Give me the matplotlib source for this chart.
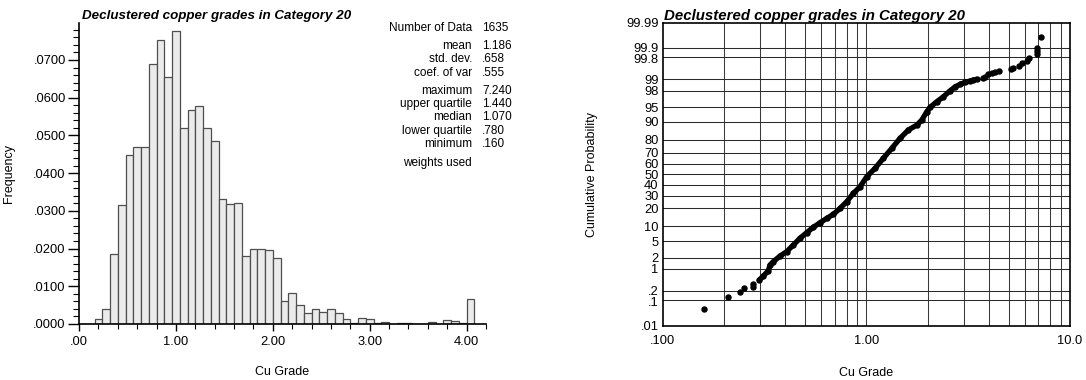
import numpy as np
import matplotlib
matplotlib.use("Agg")
import matplotlib.pyplot as plt
import matplotlib.transforms as mtransforms
from matplotlib.ticker import MultipleLocator, FuncFormatter, FixedLocator, NullLocator
from statistics import NormalDist

plt.rcParams["font.family"] = ["Liberation Sans", "DejaVu Sans"]

title = "Declustered copper grades in Category 20"

# histogram: bins of 0.08 starting at 0.0
bin_start = 0.0
bin_width = 0.08
freq = [
    0.0, 0.0, 0.0013, 0.0041, 0.0185, 0.0315, 0.0447, 0.0469, 0.0470, 0.0688,
    0.0753, 0.0654, 0.0776, 0.0520, 0.0568, 0.0578, 0.0519, 0.0485, 0.0332, 0.0319,
    0.0321, 0.0181, 0.0198, 0.0198, 0.0197, 0.0175, 0.0061, 0.0083, 0.0050, 0.0029,
    0.0039, 0.0033, 0.0039, 0.0030, 0.0012, 0.0002, 0.0015, 0.0012, 0.0003, 0.0004,
    0.0, 0.0002, 0.0002, 0.0001, 0.0, 0.0005, 0.0, 0.0010, 0.0009, 0.0002,
    0.0065,
]

stat_labels = ["Number of Data", "mean", "std. dev.", "coef. of var", "maximum",
               "upper quartile", "median", "lower quartile", "minimum", "weights used"]
stat_values = ["1635", "1.186", ".658", ".555", "7.240", "1.440", "1.070", ".780", ".160", ""]

# probability plot (grade, cumulative %)
low_grade = [0.160, 0.210, 0.240, 0.251, 0.279, 0.279]
low_pct = [0.048, 0.132, 0.196, 0.255, 0.288, 0.345]

band_grade = [0.298, 0.312, 0.330, 0.3365, 0.349, 0.377, 0.406, 0.438, 0.472, 0.509,
              0.549, 0.592, 0.639, 0.689, 0.743, 0.801, 0.863, 0.931, 1.005, 1.104,
              1.212, 1.334, 1.464, 1.607, 1.768, 1.871, 1.981, 2.056, 2.218, 2.39,
              2.58, 2.73, 2.89, 3.05, 3.23, 3.35, 3.48]
band_pct = [0.47, 0.62, 0.89, 1.29, 1.59, 2.23, 2.86, 4.11, 5.78, 7.55,
            9.61, 11.7, 13.9, 16.3, 20.1, 25.0, 31.9, 37.9, 47.6, 55.8,
            65.2, 73.8, 81.1, 86.1, 88.6, 90.8, 93.75, 94.97, 96.25, 97.14,
            97.98, 98.41, 98.63, 98.80, 98.89, 98.96, 99.007]

high_grade = [3.73, 3.83, 3.97, 4.13, 4.29, 4.50, 5.12, 5.27, 5.64, 5.80,
              6.14, 6.30, 6.92, 6.92, 6.92, 7.24]
high_pct = [99.07, 99.165, 99.29, 99.337, 99.395, 99.446, 99.509, 99.553, 99.613, 99.675,
            99.733, 99.778, 99.837, 99.875, 99.90, 99.962]

prob_ticks = [0.01, 0.1, 0.2, 1, 2, 5, 10, 20, 30, 40, 50, 60, 70, 80, 90, 95, 98, 99,
              99.8, 99.9, 99.99]
prob_labels = [".01", ".1", ".2", "1", "2", "5", "10", "20", "30", "40", "50", "60", "70",
               "80", "90", "95", "98", "99", "99.8", "99.9", "99.99"]

W, H = 1086, 380
fig = plt.figure(figsize=(W / 100, H / 100), dpi=100)


def box(x0, y0, x1, y1):
    return [x0 / W, 1 - y1 / H, (x1 - x0) / W, (y1 - y0) / H]


# ---- histogram ----
ax = fig.add_axes(box(79, 23, 486, 324))
lefts = bin_start + bin_width * np.arange(len(freq))
ax.bar(lefts, freq, width=bin_width, align="edge", color="#ebebeb",
       edgecolor="#4f4f4f", linewidth=0.9)
ax.set_xlim(0, 4.2)
ax.set_ylim(0, 0.0798)
for s in ["top", "right"]:
    ax.spines[s].set_visible(False)
for s in ["left", "bottom"]:
    ax.spines[s].set_linewidth(1.2)
ax.yaxis.set_major_locator(MultipleLocator(0.01))
ax.yaxis.set_minor_locator(MultipleLocator(0.002))
ax.xaxis.set_major_locator(MultipleLocator(1.0))
ax.xaxis.set_minor_locator(MultipleLocator(0.2))


def dotfmt(v, digits):
    s = f"{v:.{digits}f}"
    return s[1:] if s.startswith("0") else s


ax.yaxis.set_major_formatter(FuncFormatter(lambda v, _: dotfmt(v, 4)))
ax.xaxis.set_major_formatter(FuncFormatter(lambda v, _: dotfmt(v, 2)))
ax.tick_params(axis="y", which="major", length=8, width=1, pad=1.5, labelsize=9.3)
ax.tick_params(axis="y", which="minor", length=4, width=0.8)
ax.tick_params(axis="x", which="major", length=5, width=1, pad=3.5, labelsize=9.3)
ax.tick_params(axis="x", which="minor", length=3.5, width=0.8)
ax.set_xlabel("Cu Grade", fontsize=9)
ax.set_ylabel("Frequency", fontsize=9)
ax.xaxis.set_label_coords(0.5, -0.141)
ax.yaxis.set_label_coords(-0.157, 0.5)
fig.text(82 / W, 1 - 19.3 / H, title, fontsize=9.6, fontweight="bold",
         fontstyle="italic", va="baseline", ha="left")

# summary statistics block
line_y = [28.3, 46, 59.3, 72.7, 90.7, 104.3, 117.3, 130.7, 144, 162.7]
for lab, val, yy in zip(stat_labels, stat_values, line_y):
    fig.text(472 / W, 1 - yy / H, lab, fontsize=8.5, ha="right", va="center")
    fig.text(482 / W, 1 - yy / H, val, fontsize=8.5, ha="left", va="center")

# ---- probability plot ----
nd = NormalDist()


def fwd(p):
    p = np.clip(np.asarray(p, dtype=float), 1e-6, 100 - 1e-6)
    return np.vectorize(nd.inv_cdf, otypes=[float])(p / 100.0)


def inv(z):
    return np.vectorize(nd.cdf, otypes=[float])(np.asarray(z, dtype=float)) * 100.0


ax2 = fig.add_axes(box(662.7, 22.7, 1070, 325.7))
ax2.set_xscale("log")
ax2.set_yscale("function", functions=(fwd, inv))
ax2.set_xlim(0.1, 10)
ax2.set_ylim(0.01, 99.99)

grid_x = [k * d for d in (0.1, 1.0) for k in range(2, 10)] + [1.0]
for gx in grid_x:
    ax2.axvline(gx, color="#3a3a3a", lw=0.75, zorder=1)
for gy in prob_ticks[1:-1]:
    ax2.axhline(gy, color="#2a2a2a", lw=0.75, zorder=1)

ax2.plot(band_grade, band_pct, color="black", lw=3.8, solid_capstyle="round",
         solid_joinstyle="round", zorder=3)
ax2.plot(band_grade, band_pct, "o", color="black", ms=3.6, zorder=3)
ax2.plot(low_grade, low_pct, "o", color="black", ms=3.6, zorder=3)
ax2.plot(high_grade, high_pct, "o", color="black", ms=3.6, zorder=3)

ax2.xaxis.set_major_locator(FixedLocator([0.1, 1.0, 10.0]))
ax2.xaxis.set_minor_locator(NullLocator())
ax2.xaxis.set_major_formatter(FuncFormatter(
    lambda v, _: {0.1: ".100", 1.0: "1.00", 10.0: "10.0"}.get(round(v, 3), "")))
ax2.yaxis.set_major_locator(FixedLocator(prob_ticks))
ax2.yaxis.set_minor_locator(NullLocator())
ax2.set_yticklabels(prob_labels)
ax2.tick_params(axis="both", which="both", length=0, labelsize=9.3)
ax2.tick_params(axis="x", pad=7)
ax2.tick_params(axis="y", pad=3)

# the paired labels sit very close together; nudge them a pixel apart
nudge = {"99.9": 1.2, "99.8": -1.2, ".2": 1.2, ".1": -1.2}
for lbl in ax2.get_yticklabels():
    dy = nudge.get(lbl.get_text())
    if dy:
        lbl.set_transform(lbl.get_transform() +
                          mtransforms.ScaledTranslation(0, dy / 100, fig.dpi_scale_trans))

for s in ax2.spines.values():
    s.set_linewidth(1.2)
    s.set_zorder(4)
ax2.set_xlabel("Cu Grade", fontsize=9)
ax2.set_ylabel("Cumulative Probability", fontsize=9)
ax2.xaxis.set_label_coords(0.5, -0.136)
ax2.yaxis.set_label_coords(-0.159, 0.5)
fig.text(664 / W, 1 - 20 / H, title, fontsize=10.8, fontweight="bold",
         fontstyle="italic", va="baseline", ha="left")

fig.savefig("out.png", dpi=100)
